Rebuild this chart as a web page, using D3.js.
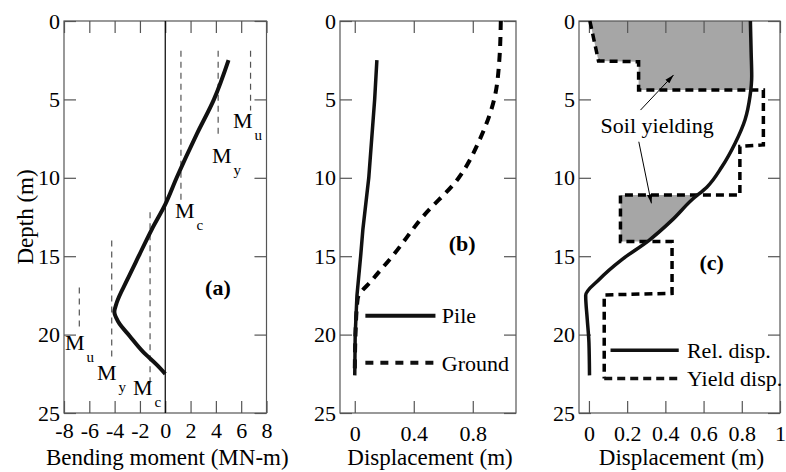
<!DOCTYPE html>
<html>
<head>
<meta charset="utf-8">
<script src="https://cdn.jsdelivr.net/npm/d3@7"></script>
<style>
  body { margin: 0; background: #fff; }
</style>
</head>
<body>
<svg id="chart"></svg>
<script>
// tick values
const depthTicks = [0, 5, 10, 15, 20, 25];
const momentTicks = [-8, -6, -4, -2, 0, 2, 4, 6, 8];
const dispTicksB = [0, 0.4, 0.8];
const dispTicksC = [0, 0.2, 0.4, 0.6, 0.8, 1];

// (a) bending moment along the pile
const momentDepth = [2.5, 5, 7.2, 10, 11.7, 13.3, 15, 16.5, 18.0, 18.55, 19.2, 20.1, 21.1, 21.9, 22.5];
const momentValue = [5.0, 3.85, 2.5, 0.9, 0, -1.07, -2.1, -3.0, -3.85, -4.02, -3.7, -2.8, -1.75, -0.7, 0];

// (a) capacity lines Mc, My, Mu (positive side, then negative side)
const capSub = ["c", "y", "u", "c", "y", "u"];
const capValue = [1.24, 4.18, 6.74, -1.2, -4.23, -6.79];
const capTop = [1.9, 1.9, 1.9, 12.2, 14.0, 17.0];
const capBottom = [11.4, 7.5, 5.7, 23.1, 21.7, 19.7];

// (b) displacement profiles
const pileDepth = [2.5, 5, 10, 13.3, 15, 17.5, 20, 22.6];
const pileDisp = [0.15, 0.135, 0.095, 0.055, 0.04, 0.015, 0.003, 0];
const groundDepth = [0, 2.5, 5, 7.5, 10, 12.5, 15, 16.5, 17.7, 20, 22.6];
const groundDisp = [0.99, 0.98, 0.945, 0.85, 0.705, 0.46, 0.255, 0.12, 0.02, 0.005, 0];

// (c) relative displacement and yield displacement
const relDepth = [0, 2, 3.5, 4.8, 6.3, 7.8, 9.3, 10.6, 11.4, 12.7, 14.0, 15.2, 16.5, 17.5, 19, 20.5, 22.6];
const relDisp = [0.845, 0.849, 0.852, 0.843, 0.817, 0.765, 0.696, 0.617, 0.539, 0.435, 0.313, 0.174, 0.052, -0.017, -0.009, 0, 0.003];
const yieldDepth = [0, 2.55, 2.6, 4.4, 4.4, 7.9, 8.0, 11.1, 11.1, 14.07, 14.07, 17.37, 17.47, 22.8];
const yieldDisp = [0.005, 0.05, 0.26, 0.26, 0.913, 0.913, 0.79, 0.79, 0.165, 0.165, 0.435, 0.435, 0.08, 0.08];
// depth ranges where soil yields (shaded)
const yieldZones = [[0, 4.4], [11.1, 14.07]];

const W = 786, H = 472;
const FONT = "'Liberation Serif', 'Times New Roman', serif";

const svg = d3.select("#chart")
  .attr("width", W)
  .attr("height", H)
  .style("font-family", FONT);

let y = d3.scaleLinear().domain([0, 25]).range([21, 413]);
let xA = d3.scaleLinear().domain([-8, 8]).range([64, 266.5]);
let xB = d3.scaleLinear().domain([-0.1, 1.093]).range([340, 516]);
let xC = d3.scaleLinear().domain([-0.052, 1.0]).range([579, 780]);

svg.append("defs").append("marker")
  .attr("id", "arrow")
  .attr("viewBox", "0 0 10 10")
  .attr("refX", 10)
  .attr("refY", 5)
  .attr("markerWidth", 9)
  .attr("markerHeight", 9)
  .attr("orient", "auto")
  .append("path")
  .attr("d", "M0,2 L10,5 L0,8 Z")
  .attr("fill", "#000");

const lineOf = (x, curve) => d3.line()
  .x(d => x(d[0]))
  .y(d => y(d[1]))
  .curve(curve);

function styleAxis(sel) {
  sel.attr("font-family", FONT);
  sel.select(".domain").remove();
  sel.selectAll(".tick line").attr("stroke", "#555").attr("stroke-width", 1.2);
  sel.selectAll("text")
    .attr("font-family", FONT)
    .attr("font-size", 22)
    .attr("fill", "#000");
}

function drawFrame(x, xTicks, xPad) {
  let g = svg.append("g");
  let [x0, x1] = x.range();
  let [y0, y1] = y.range();
  g.append("g")
    .attr("transform", `translate(${x0},0)`)
    .call(d3.axisLeft(y).tickValues(depthTicks).tickSize(-12).tickPadding(4).tickFormat(d => String(d)))
    .call(styleAxis);
  g.append("g")
    .attr("transform", `translate(${x1},0)`)
    .call(d3.axisRight(y).tickValues(depthTicks).tickSize(-12).tickFormat(""))
    .call(styleAxis);
  g.append("g")
    .attr("transform", `translate(0,${y0})`)
    .call(d3.axisTop(x).tickValues(xTicks).tickSize(-12).tickFormat(""))
    .call(styleAxis);
  g.append("g")
    .attr("transform", `translate(0,${y1})`)
    .call(d3.axisBottom(x).tickValues(xTicks).tickSize(-12).tickPadding(xPad).tickFormat(d => String(d)))
    .call(styleAxis);
  g.append("rect")
    .attr("x", x0)
    .attr("y", y0)
    .attr("width", x1 - x0)
    .attr("height", y1 - y0)
    .attr("fill", "none")
    .attr("stroke", "#555")
    .attr("stroke-width", 1.2);
}

function addTitle(x, text) {
  let [x0, x1] = x.range();
  svg.append("text")
    .attr("x", (x0 + x1) / 2 + 2)
    .attr("y", 465)
    .attr("text-anchor", "middle")
    .attr("font-size", 23)
    .text(text);
}

function addTag(x, xv, dv, text) {
  svg.append("text")
    .attr("x", x(xv))
    .attr("y", y(dv))
    .attr("dy", "0.35em")
    .attr("text-anchor", "middle")
    .attr("font-size", 22)
    .attr("font-weight", "bold")
    .text(text);
}

// ---------- panel (a) ----------
drawFrame(xA, momentTicks, 9);
addTitle(xA, "Bending moment (MN-m)");

svg.append("line")
  .attr("x1", xA(0)).attr("x2", xA(0))
  .attr("y1", y(0)).attr("y2", y(25))
  .attr("stroke", "#000")
  .attr("stroke-width", 1.2);

capValue.forEach((v, i) => {
  svg.append("line")
    .attr("x1", xA(v)).attr("x2", xA(v))
    .attr("y1", y(capTop[i])).attr("y2", y(capBottom[i]))
    .attr("stroke", "#555")
    .attr("stroke-width", 1.2)
    .attr("stroke-dasharray", "6,5");
});

// label anchors for M labels (moment, depth of baseline)
const capLabelAt = [[0.77, 12.56], [3.69, 9.06], [5.35, 6.83], [-2.55, 23.85], [-5.39, 22.9], [-7.92, 20.98]];
capLabelAt.forEach((p, i) => {
  let t = svg.append("text")
    .attr("x", xA(p[0]))
    .attr("y", y(p[1]))
    .attr("font-size", 22)
    .text("M");
  t.append("tspan")
    .attr("dx", 2)
    .attr("dy", 12)
    .attr("font-size", 15)
    .text(capSub[i]);
});

svg.append("path")
  .attr("d", lineOf(xA, d3.curveMonotoneY)(d3.zip(momentValue, momentDepth)))
  .attr("fill", "none")
  .attr("stroke", "#111")
  .attr("stroke-width", 4)
  .attr("stroke-linejoin", "round");

addTag(xA, 4.16, 16.96, "(a)");

svg.append("text")
  .attr("transform", `translate(25, ${(y(0) + y(25)) / 2}) rotate(-90)`)
  .attr("text-anchor", "middle")
  .attr("dy", "0.35em")
  .attr("font-size", 23)
  .text("Depth (m)");

// ---------- panel (b) ----------
drawFrame(xB, dispTicksB, 12);
addTitle(xB, "Displacement (m)");

svg.append("path")
  .attr("d", lineOf(xB, d3.curveMonotoneY)(d3.zip(groundDisp, groundDepth)))
  .attr("fill", "none")
  .attr("stroke", "#000")
  .attr("stroke-width", 4)
  .attr("stroke-dasharray", "9,7");

svg.append("path")
  .attr("d", lineOf(xB, d3.curveLinear)(d3.zip(pileDisp, pileDepth)))
  .attr("fill", "none")
  .attr("stroke", "#111")
  .attr("stroke-width", 3.5);

addTag(xB, 0.728, 14.16, "(b)");

// legend (b)
const legendB = [
  { label: "Pile", depth: 18.8, dash: null },
  { label: "Ground", depth: 21.8, dash: "8,7" }
];
legendB.forEach(d => {
  svg.append("line")
    .attr("x1", xB(0.072)).attr("x2", xB(0.547))
    .attr("y1", y(d.depth)).attr("y2", y(d.depth))
    .attr("stroke", "#111")
    .attr("stroke-width", 4)
    .attr("stroke-dasharray", d.dash);
  svg.append("text")
    .attr("x", xB(0.59))
    .attr("y", y(d.depth))
    .attr("dy", "0.35em")
    .attr("font-size", 22)
    .text(d.label);
});

// ---------- panel (c) ----------
function relAt(d) {
  for (let i = 0; i < relDepth.length - 1; i++) {
    if (d >= relDepth[i] && d <= relDepth[i + 1]) {
      let t = (d - relDepth[i]) / (relDepth[i + 1] - relDepth[i]);
      return relDisp[i] + t * (relDisp[i + 1] - relDisp[i]);
    }
  }
  return relDisp[relDisp.length - 1];
}

yieldZones.forEach(([d0, d1]) => {
  let pts = [];
  yieldDepth.forEach((d, i) => {
    if (d >= d0 && d <= d1 && yieldDisp[i] <= relAt(d)) pts.push([yieldDisp[i], d]);
  });
  pts.push([relAt(d1), d1]);
  for (let i = relDepth.length - 1; i >= 0; i--) {
    if (relDepth[i] > d0 && relDepth[i] < d1) pts.push([relDisp[i], relDepth[i]]);
  }
  pts.push([relAt(d0), d0]);
  svg.append("path")
    .attr("d", lineOf(xC, d3.curveLinearClosed)(pts))
    .attr("fill", "#a6a6a6")
    .attr("stroke", "none");
});

drawFrame(xC, dispTicksC, 12);
addTitle(xC, "Displacement (m)");

svg.append("path")
  .attr("d", lineOf(xC, d3.curveLinear)(d3.zip(yieldDisp, yieldDepth)))
  .attr("fill", "none")
  .attr("stroke", "#000")
  .attr("stroke-width", 3.5)
  .attr("stroke-dasharray", "8,5");

svg.append("path")
  .attr("d", lineOf(xC, d3.curveMonotoneY)(d3.zip(relDisp, relDepth)))
  .attr("fill", "none")
  .attr("stroke", "#111")
  .attr("stroke-width", 3.5);

addTag(xC, 0.642, 15.37, "(c)");

// "Soil yielding" annotation with two arrows
svg.append("text")
  .attr("x", xC(0.061))
  .attr("y", y(6.62))
  .attr("dy", "0.35em")
  .attr("font-size", 22)
  .text("Soil yielding");

const arrowsC = [[[0.27, 5.68], [0.443, 3.44]], [[0.261, 7.7], [0.327, 11.63]]];
arrowsC.forEach(([a, b]) => {
  svg.append("line")
    .attr("x1", xC(a[0])).attr("y1", y(a[1]))
    .attr("x2", xC(b[0])).attr("y2", y(b[1]))
    .attr("stroke", "#000")
    .attr("stroke-width", 1)
    .attr("marker-end", "url(#arrow)");
});

// legend (c)
const legendC = [
  { label: "Rel. disp.", depth: 21.0, dash: null, from: 0.113 },
  { label: "Yield disp.", depth: 22.8, dash: "8,5", from: 0.08 }
];
legendC.forEach(d => {
  svg.append("line")
    .attr("x1", xC(d.from)).attr("x2", xC(0.47))
    .attr("y1", y(d.depth)).attr("y2", y(d.depth))
    .attr("stroke", "#111")
    .attr("stroke-width", 3.5)
    .attr("stroke-dasharray", d.dash);
  svg.append("text")
    .attr("x", xC(0.513))
    .attr("y", y(d.depth))
    .attr("dy", "0.35em")
    .attr("font-size", 22)
    .text(d.label);
});
</script>
</body>
</html>
